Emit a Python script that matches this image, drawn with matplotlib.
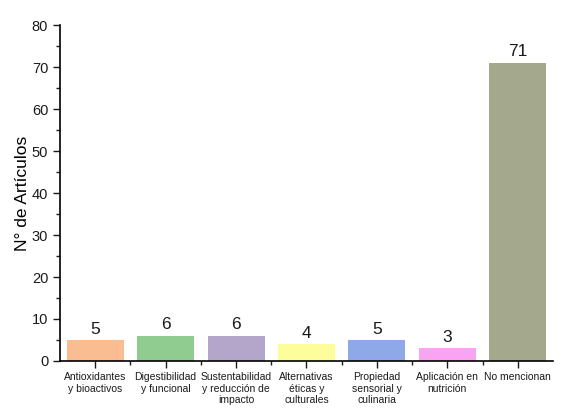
import matplotlib
matplotlib.use("Agg")
import matplotlib.pyplot as plt
from matplotlib.ticker import MultipleLocator

plt.rcParams['font.family'] = ['Liberation Sans', 'DejaVu Sans']
plt.rcParams['text.color'] = '#1a1a1a'
plt.rcParams['xtick.color'] = '#1a1a1a'
plt.rcParams['ytick.color'] = '#1a1a1a'

# ---- data ----
categories = [
    "Antioxidantes\ny bioactivos",
    "Digestibilidad\ny funcional",
    "Sustentabilidad\ny reducción de\nimpacto",
    "Alternativas\néticas y\nculturales",
    "Propiedad\nsensorial y\nculinaria",
    "Aplicación en\nnutrición",
    "No mencionan",
]
counts = [5, 6, 6, 4, 5, 3, 71]
colors = ["#F9BD91", "#90CB8F", "#B4A5CA", "#FDFD9B", "#8FA9E8", "#F8A4F3", "#A4A98D"]

fig = plt.figure(figsize=(5.63, 4.08), dpi=100)
ax = fig.add_axes([0.1066, 0.1152, 0.8756, 0.8235])

x = list(range(len(categories)))
bars = ax.bar(x, counts, width=0.81, color=colors)

for xi, v in zip(x, counts):
    ax.text(xi, v + 0.8, str(v), ha='center', va='bottom', fontsize=12.5)

ax.set_xlim(-0.5, 6.5)
ax.set_ylim(0, 80)
ax.yaxis.set_major_locator(MultipleLocator(10))
ax.yaxis.set_minor_locator(MultipleLocator(5))
ax.set_xticks(x)
ax.set_xticklabels(categories, fontsize=7.5, linespacing=1.2)
ax.set_xticks([i + 0.5 for i in x[:-1]], minor=True)
ax.tick_params(axis='y', which='major', labelsize=10.5, length=5, width=1)
ax.tick_params(axis='y', which='minor', length=3, width=1)
ax.tick_params(axis='x', which='major', length=5, width=1, pad=3)
ax.tick_params(axis='x', which='minor', length=3, width=1)
ax.set_ylabel("N° de Artículos", fontsize=12.5, labelpad=1)

ax.spines["top"].set_visible(False)
ax.spines["right"].set_visible(False)
ax.spines["left"].set_linewidth(1.2)
ax.spines["bottom"].set_linewidth(1.2)

fig.savefig("out.png", dpi=100)
